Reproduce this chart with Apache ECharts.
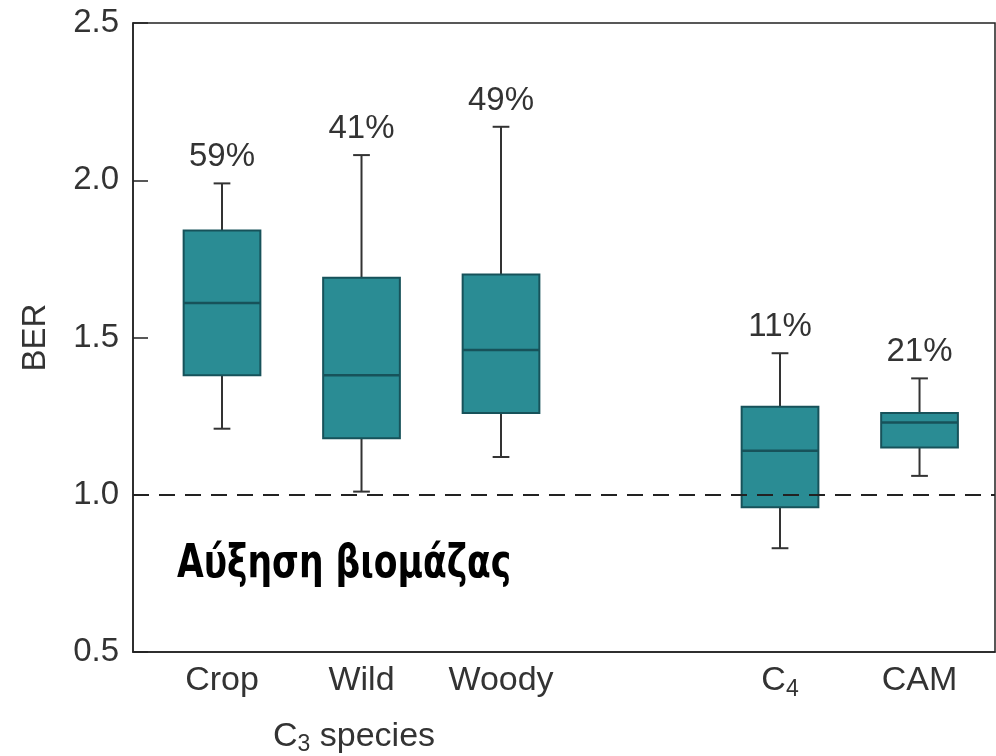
<!DOCTYPE html>
<html>
<head>
<meta charset="utf-8">
<script src="https://cdn.jsdelivr.net/npm/echarts@6/dist/echarts.min.js"></script>
<style>
html,body{margin:0;padding:0;background:#fff;}
#chart{width:996px;height:756px;}
</style>
</head>
<body>
<div id="chart"></div>
<script>
// ---- data ----
const categories = ['Crop', 'Wild', 'Woody', 'C4', 'CAM'];
const positions = [1, 2, 3, 5, 6];
const minVals    = [1.21, 1.01, 1.12, 0.83, 1.06];
const q1Vals     = [1.38, 1.18, 1.26, 0.96, 1.15];
const medianVals = [1.61, 1.38, 1.46, 1.14, 1.23];
const q3Vals     = [1.84, 1.69, 1.70, 1.28, 1.26];
const maxVals    = [1.99, 2.08, 2.17, 1.45, 1.37];
const pctLabels  = ['59%', '41%', '49%', '11%', '21%'];
const yTicks     = [0.5, 1.0, 1.5, 2.0, 2.5];
const referenceLine = 1.0;

const chart = echarts.init(document.getElementById('chart'));

const boxData = positions.map((p, i) => [p, minVals[i], q1Vals[i], medianVals[i], q3Vals[i], maxVals[i]]);

const FONT = '"Liberation Sans", Arial, sans-serif';
const TXT = '#333';
const FILL = '#2a8c94';
const EDGE = '#17525a';
const WHISK = '#333';

function renderItem(params, api) {
  const x = api.value(0);
  const pMin = api.coord([x, api.value(1)]);
  const pQ1 = api.coord([x, api.value(2)]);
  const pMed = api.coord([x, api.value(3)]);
  const pQ3 = api.coord([x, api.value(4)]);
  const pMax = api.coord([x, api.value(5)]);
  const bw = api.size([0.55, 0])[0];
  const cw = api.size([0.12, 0])[0];
  const cx = pMed[0];
  const lineStyle = { stroke: WHISK, lineWidth: 2 };
  return {
    type: 'group',
    children: [
      { type: 'line', shape: { x1: cx, y1: pQ3[1], x2: cx, y2: pMax[1] }, style: lineStyle },
      { type: 'line', shape: { x1: cx, y1: pQ1[1], x2: cx, y2: pMin[1] }, style: lineStyle },
      { type: 'line', shape: { x1: cx - cw / 2, y1: pMax[1], x2: cx + cw / 2, y2: pMax[1] }, style: lineStyle },
      { type: 'line', shape: { x1: cx - cw / 2, y1: pMin[1], x2: cx + cw / 2, y2: pMin[1] }, style: lineStyle },
      { type: 'rect', shape: { x: cx - bw / 2, y: pQ3[1], width: bw, height: pQ1[1] - pQ3[1] },
        style: { fill: FILL, stroke: EDGE, lineWidth: 2 } },
      { type: 'line', shape: { x1: cx - bw / 2, y1: pMed[1], x2: cx + bw / 2, y2: pMed[1] },
        style: { stroke: EDGE, lineWidth: 2.5 } },
      { type: 'text', x: cx, y: pMax[1] - 26,
        style: { text: pctLabels[params.dataIndex], fill: TXT, font: '33px ' + FONT,
                 align: 'center', verticalAlign: 'middle' } }
    ]
  };
}

const option = {
  animation: false,
  backgroundColor: '#fff',
  grid: { left: 133, right: 1, top: 23, bottom: 104, show: true, borderColor: '#222', borderWidth: 1.5 },
  xAxis: {
    type: 'value',
    min: 0.362,
    max: 6.541,
    splitLine: { show: false },
    axisTick: { show: false },
    axisLine: { show: true, lineStyle: { color: '#222', width: 1.5 } },
    axisLabel: {
      customValues: positions,
      margin: 7,
      fontFamily: FONT,
      fontSize: 34,
      lineHeight: 44,
      color: TXT,
      formatter: function (v) {
        const i = positions.indexOf(v);
        if (i < 0) return '';
        const n = categories[i];
        if (n === 'C4') return 'C{sub|4}';
        return n;
      },
      rich: {
        sub: { fontFamily: FONT, fontSize: 23, color: TXT, padding: [18, 0, 0, 0] }
      }
    }
  },
  yAxis: {
    type: 'value',
    min: 0.5,
    max: 2.5,
    interval: 0.5,
    name: 'BER',
    nameLocation: 'middle',
    nameGap: 81,
    nameTextStyle: { fontFamily: FONT, fontSize: 33, color: TXT },
    splitLine: { show: false },
    axisLine: { show: true, lineStyle: { color: '#222', width: 1.5 } },
    axisTick: { show: true, inside: true, length: 15, lineStyle: { color: '#222', width: 1.5 } },
    axisLabel: {
      margin: 14,
      fontFamily: FONT,
      fontSize: 33,
      color: TXT,
      formatter: function (v) { return yTicks.indexOf(v) >= 0 ? v.toFixed(1) : ''; }
    }
  },
  series: [
    {
      type: 'custom',
      renderItem: renderItem,
      encode: { x: 0, y: [1, 2, 3, 4, 5] },
      data: boxData,
      z: 2
    },
    {
      type: 'line',
      data: [],
      markLine: {
        silent: true,
        symbol: 'none',
        label: { show: false },
        lineStyle: { color: '#222', width: 2, type: [16, 10] },
        data: [{ yAxis: referenceLine }]
      },
      z: 5
    }
  ],
  graphic: [
    {
      type: 'text',
      left: 177,
      top: 542,
      scaleX: 0.96,
      scaleY: 1.15,
      style: {
        text: 'Αύξηση βιομάζας',
        font: 'bold 40px "DejaVu Sans Condensed", "DejaVu Sans", sans-serif',
        fill: '#000'
      }
    },
    {
      type: 'text',
      left: 273,
      top: 720,
      style: {
        text: 'C{sub|3} species',
        fontFamily: FONT,
        fontSize: 34,
        fill: TXT,
        rich: {
          sub: { fontFamily: FONT, fontSize: 23, fill: TXT, padding: [16, 0, 0, 0] }
        }
      }
    }
  ]
};

chart.setOption(option);
</script>
</body>
</html>
